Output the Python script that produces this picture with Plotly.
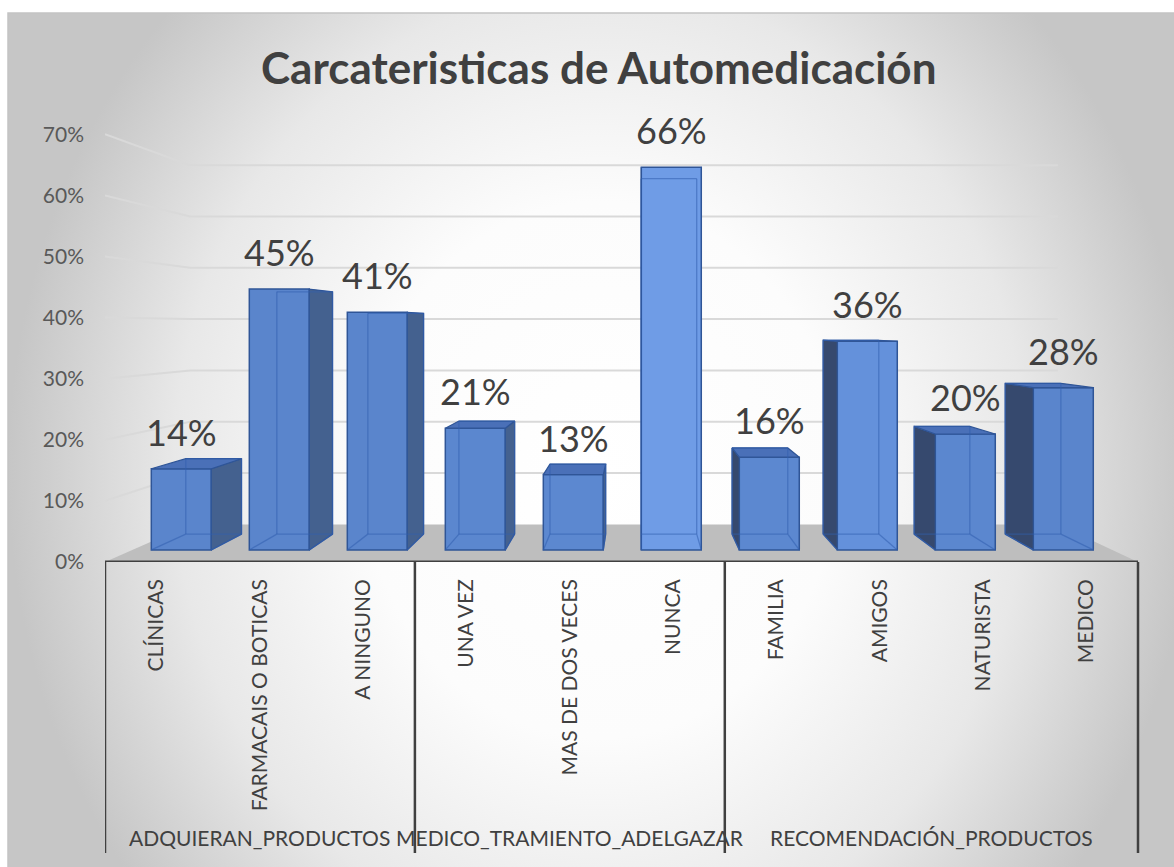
import plotly.graph_objects as go

# ---------------- data ----------------
categories = ["CLÍNICAS", "FARMACAIS O BOTICAS", "A NINGUNO",
              "UNA VEZ", "MAS DE DOS VECES", "NUNCA",
              "FAMILIA", "AMIGOS", "NATURISTA", "MEDICO"]
groups = ["ADQUIERAN_PRODUCTOS", "MEDICO_TRAMIENTO_ADELGAZAR", "RECOMENDACIÓN_PRODUCTOS"]
group_sizes = [3, 3, 4]
values = [0.14, 0.45, 0.41, 0.21, 0.13, 0.66, 0.16, 0.36, 0.20, 0.28]
y_ticks = [0, 0.1, 0.2, 0.3, 0.4, 0.5, 0.6, 0.7]
title_text = "Carcateristicas de Automedicación"

# ---------------- geometry / style ----------------
W, H = 1174, 867
AX_L = 105          # left edge of front plane (px)
FLOOR_Y = 562       # front floor line (px)
CAT_W = 103.3       # px per category on front plane
PXY = 611.0         # px per 1.0 on front plane
VPX, VPY = 637.0, 327.0   # vanishing point (px)
K_BAR = 98.0 / CAT_W      # bar front plane scale
K_DEPTH = 0.929           # bar back face scale (relative to bar front)
K_WALL = 0.84             # back wall scale (relative to front plane)
BAR_W = 0.612
FONT = "Lato"

front_colors = ["#5A85CC", "#5A85CC", "#5A85CC", "#5B87CF", "#5C88D0",
                "#6F9CE6", "#5C88D0", "#6491DB", "#5B87CF", "#5A85CC"]
edge_col = "#2F5597"
side_r_col = "#44618F"
side_l_col = "#36496E"
top_col = "#4A70B8"


def fu(p):  # front-plane x units at pixel p
    return (p - AX_L) / CAT_W - 0.5


def fv(p):  # front-plane y units at pixel p
    return (FLOOR_Y - p) / PXY


x2_range = [fu(AX_L), fu(W)]
y2_range = [fv(FLOOR_Y), fv(0)]
x3_range = [fu(VPX + (AX_L - VPX) / K_BAR), fu(VPX + (W - VPX) / K_BAR)]
y3_range = [fv(VPY + (FLOOR_Y - VPY) / K_BAR), fv(VPY + (0 - VPY) / K_BAR)]
VU, VV = fu(VPX), fv(VPY)   # vanishing point in data units (same in both planes)


def scale(pt, k):
    return (VU + k * (pt[0] - VU), VV + k * (pt[1] - VV))


fig = go.Figure()

# ---------- background (radial gradient) ----------
fig.add_trace(go.Scatter(
    x=[8, 1192, 1192, 8, 8], y=[-200, -200, 1140, 1140, -200],
    fill="toself", mode="lines", line=dict(width=0),
    fillgradient=dict(type="radial",
                      colorscale=[[0, "#ffffff"], [0.4, "#fcfcfc"], [0.72, "#e8e8e8"], [1, "#c6c6c6"]]),
    hoverinfo="skip", showlegend=False, xaxis="x", yaxis="y"))

# ---------- floor ----------
fl = [(-0.5, 0), (9.5, 0)]
fb = [scale(p, K_WALL) for p in fl]
poly = [fl[0], fl[1], fb[1], fb[0], fl[0]]
fig.add_trace(go.Scatter(
    x=[p[0] for p in poly], y=[p[1] for p in poly], fill="toself",
    fillcolor="#BEBEBE", mode="lines", line=dict(width=0),
    hoverinfo="skip", showlegend=False, xaxis="x2", yaxis="y2"))

# ---------- gridlines (left wall + back wall) ----------
gx, gy = [], []
for t in y_ticks[1:]:
    a = (-0.5, t)
    b = scale(a, K_WALL)
    c = scale((9.5, t), K_WALL)
    gx += [a[0], b[0], c[0], None]
    gy += [a[1], b[1], c[1], None]
fig.add_trace(go.Scatter(x=gx, y=gy, mode="lines", line=dict(color="#D9D9D9", width=2),
                         hoverinfo="skip", showlegend=False, xaxis="x2", yaxis="y2"))

# ---------- bar fronts ----------
fig.add_trace(go.Bar(
    x=list(range(len(values))), y=values, width=BAR_W,
    marker=dict(color=front_colors, line=dict(color=edge_col, width=1.5)),
    hoverinfo="skip", showlegend=False, xaxis="x3", yaxis="y3"))

# ---------- 3D faces ----------
hx, hy = [], []
for i, v in enumerate(values):
    l, r = i - BAR_W / 2, i + BAR_W / 2
    F = {"bl": (l, 0), "br": (r, 0), "tr": (r, v), "tl": (l, v)}
    B = {k: scale(p, K_DEPTH) for k, p in F.items()}
    if i < VU:
        s = [F["br"], F["tr"], B["tr"], B["br"], F["br"]]
        sc = side_r_col
    else:
        s = [F["bl"], F["tl"], B["tl"], B["bl"], F["bl"]]
        sc = side_l_col
    fig.add_trace(go.Scatter(
        x=[p[0] for p in s], y=[p[1] for p in s], fill="toself", fillcolor=sc,
        mode="lines", line=dict(color=edge_col, width=1.2),
        hoverinfo="skip", showlegend=False, xaxis="x3", yaxis="y3"))
    if v < VV:
        t = [F["tl"], F["tr"], B["tr"], B["tl"], F["tl"]]
        fig.add_trace(go.Scatter(
            x=[p[0] for p in t], y=[p[1] for p in t], fill="toself", fillcolor=top_col,
            mode="lines", line=dict(color=edge_col, width=1.2),
            hoverinfo="skip", showlegend=False, xaxis="x3", yaxis="y3"))
    for a, b in [("bl", "br"), ("br", "tr"), ("tr", "tl"), ("tl", "bl")]:
        hx += [B[a][0], B[b][0], None]
        hy += [B[a][1], B[b][1], None]
    for k in ["bl", "br"]:
        hx += [F[k][0], B[k][0], None]
        hy += [F[k][1], B[k][1], None]
fig.add_trace(go.Scatter(x=hx, y=hy, mode="lines",
                         line=dict(color="rgba(50,95,175,0.55)", width=1.3),
                         hoverinfo="skip", showlegend=False, xaxis="x3", yaxis="y3"))

# ---------- data labels ----------
for i, v in enumerate(values):
    fig.add_annotation(x=i, y=v, xref="x3", yref="y3", text=f"{round(v * 100)}%",
                       showarrow=False, yanchor="middle", yshift=37,
                       font=dict(family=FONT, size=36, color="#404040"))

# ---------- axis line and group dividers ----------
div_bottom = (H - 853) / H
floor_paper = (H - FLOOR_Y) / H
fig.add_shape(type="line", xref="x2", yref="y2", x0=-0.5, x1=9.5, y0=0, y1=0,
              line=dict(color="#404040", width=3), layer="above")
edges = [-0.5]
for n in group_sizes:
    edges.append(edges[-1] + n)
for e in edges:
    fig.add_shape(type="line", xref="x2", yref="paper", x0=e, x1=e,
                  y0=floor_paper, y1=div_bottom,
                  line=dict(color="#404040", width=2.5), layer="above")
for gi, g in enumerate(groups):
    fig.add_annotation(x=(edges[gi] + edges[gi + 1]) / 2, xref="x2", y=(H - 837) / H, yref="paper",
                       text=g, showarrow=False, yanchor="middle",
                       font=dict(family=FONT, size=21, color="#404040"))

# ---------- title ----------
fig.add_annotation(x=598 / W, y=1 - 67 / H, xref="paper", yref="paper", text=f"<b>{title_text}</b>",
                   showarrow=False, xanchor="center", yanchor="middle",
                   font=dict(family=FONT, size=44, color="#404040"))

# chart area border
fig.add_shape(type="rect", xref="paper", yref="paper", x0=8 / W, x1=1.01, y0=-0.01, y1=1 - 13 / H,
              line=dict(color="#C4C4C4", width=1.5), fillcolor="rgba(0,0,0,0)", layer="above")

dom_x = [AX_L / W, 1]
dom_y = [(H - FLOOR_Y) / H, 1]
fig.update_layout(
    width=W, height=H, autosize=False, margin=dict(l=0, r=0, t=0, b=0, pad=0),
    paper_bgcolor="white", plot_bgcolor="rgba(0,0,0,0)",
    showlegend=False, barmode="overlay",
    xaxis=dict(domain=[8 / W, 1], range=[8, W], visible=False, fixedrange=True, automargin=False),
    yaxis=dict(domain=[0, 1 - 13 / H], range=[H, 13], visible=False, fixedrange=True, automargin=False),
    xaxis2=dict(domain=dom_x, range=x2_range, anchor="y2", showgrid=False, zeroline=False,
                showline=False, tickmode="array", tickvals=list(range(len(categories))),
                ticktext=categories, tickangle=-90, ticks="", ticklabelstandoff=12,
                automargin=False,
                tickfont=dict(family=FONT, size=21, color="#404040")),
    yaxis2=dict(domain=dom_y, range=y2_range, anchor="x2", showgrid=False, zeroline=False,
                showline=False, tickmode="array", tickvals=y_ticks, tickformat=".0%",
                ticks="", ticklabelstandoff=20, automargin=False,
                tickfont=dict(family=FONT, size=21, color="#595959")),
    xaxis3=dict(overlaying="x2", range=x3_range, visible=False, anchor="y3", automargin=False),
    yaxis3=dict(overlaying="y2", range=y3_range, visible=False, anchor="x3", automargin=False),
)

post_js = (
    "document.documentElement.style.margin='0';"
    "document.documentElement.style.overflow='hidden';"
    "document.body.style.margin='0';"
    "document.body.style.overflow='hidden';"
    "var gd=document.getElementById('{plot_id}');"
    "gd.style.position='fixed';gd.style.left='0px';gd.style.top='0px';"
)
fig.write_html("out.html", config={"displayModeBar": False, "responsive": False},
               post_script=post_js)
